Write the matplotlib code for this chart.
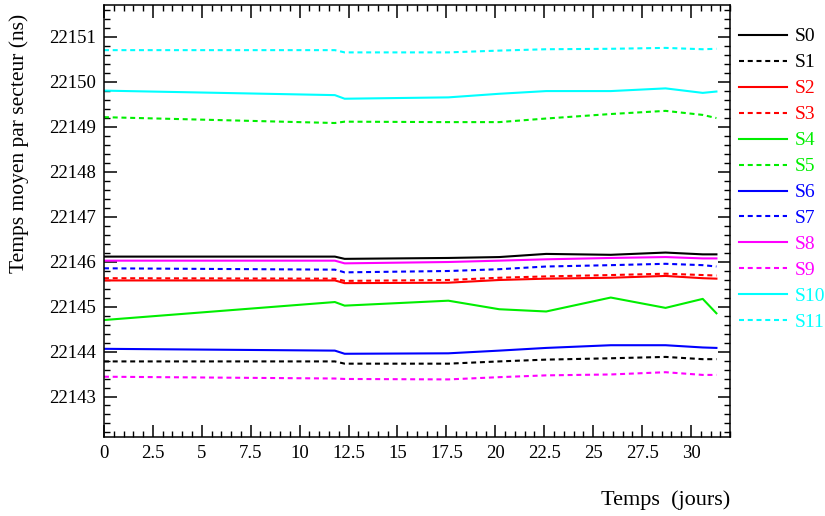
import numpy as np
import matplotlib
matplotlib.use('Agg')
import matplotlib.pyplot as plt
from matplotlib.ticker import MultipleLocator, FormatStrFormatter

plt.rcParams['font.family'] = ['Liberation Serif', 'DejaVu Serif']

# Measurement days
days = [0, 11.8, 12.3, 17.6, 20.2, 22.6, 25.9, 28.7, 30.6, 31.3]

# Mean time per sector (ns)
S0 = [22146.11, 22146.11, 22146.06, 22146.08, 22146.10, 22146.17, 22146.15, 22146.20, 22146.16, 22146.16]
S1 = [22143.78, 22143.78, 22143.73, 22143.73, 22143.78, 22143.82, 22143.85, 22143.88, 22143.83, 22143.83]
S2 = [22145.58, 22145.58, 22145.52, 22145.53, 22145.59, 22145.62, 22145.64, 22145.68, 22145.63, 22145.62]
S3 = [22145.63, 22145.62, 22145.57, 22145.59, 22145.64, 22145.67, 22145.70, 22145.73, 22145.70, 22145.69]
S4 = [22144.70, 22145.10, 22145.02, 22145.13, 22144.94, 22144.89, 22145.20, 22144.97, 22145.17, 22144.85]
S5 = [22149.21, 22149.08, 22149.11, 22149.10, 22149.10, 22149.18, 22149.28, 22149.35, 22149.26, 22149.19]
S6 = [22144.06, 22144.02, 22143.95, 22143.96, 22144.02, 22144.08, 22144.14, 22144.14, 22144.09, 22144.08]
S7 = [22145.85, 22145.82, 22145.76, 22145.79, 22145.83, 22145.89, 22145.92, 22145.95, 22145.92, 22145.89]
S8 = [22146.02, 22146.02, 22145.96, 22145.99, 22146.02, 22146.05, 22146.08, 22146.10, 22146.07, 22146.07]
S9 = [22143.44, 22143.40, 22143.39, 22143.38, 22143.43, 22143.47, 22143.49, 22143.54, 22143.48, 22143.48]
S10 = [22149.80, 22149.70, 22149.62, 22149.65, 22149.73, 22149.79, 22149.79, 22149.85, 22149.75, 22149.78]
S11 = [22150.70, 22150.70, 22150.65, 22150.65, 22150.69, 22150.72, 22150.73, 22150.75, 22150.72, 22150.73]

series = [S0, S1, S2, S3, S4, S5, S6, S7, S8, S9, S10, S11]
labels = ['S%d' % i for i in range(12)]
colors = ['#000000', '#ff0000', '#00ee00', '#0000ff', '#ff00ff', '#00ffff']

fig = plt.figure(figsize=(8.25, 5.16), dpi=100)
ax = fig.add_axes([0.126, 0.154, 0.759, 0.836])

dash = (0, (2.4, 1.8))
for i, (vals, lab) in enumerate(zip(series, labels)):
    ls = '-' if i % 2 == 0 else dash
    ax.plot(days, vals, color=colors[i // 2], linestyle=ls, linewidth=1.5, label=lab)

ax.set_xlim(0, 32)
ax.set_ylim(22142.11, 22151.7)

ax.xaxis.set_major_locator(MultipleLocator(2.5))
ax.xaxis.set_minor_locator(MultipleLocator(0.5))
ax.xaxis.set_major_formatter(FormatStrFormatter('%g'))
ax.yaxis.set_major_locator(MultipleLocator(1))
ax.yaxis.set_minor_locator(MultipleLocator(0.2))
ax.yaxis.set_major_formatter(FormatStrFormatter('%d'))

ax.tick_params(which='both', direction='in', top=True, right=True, labelsize=13.5, pad=6)
ax.tick_params(which='major', length=9, width=1.1)
ax.tick_params(which='minor', length=4.3, width=1.0)
for spine in ax.spines.values():
    spine.set_linewidth(1.1)

ax.set_ylabel('Temps moyen par secteur (ns)', fontsize=15.5)
ax.yaxis.set_label_coords(-0.12, 0.68)
fig.text(0.885, 0.022, 'Temps  (jours)', ha='right', va='baseline', fontsize=16)

ax.legend(loc='upper left', bbox_to_anchor=(0.896, 0.946), bbox_transform=fig.transFigure,
          frameon=False, fontsize=14, handlelength=2.47, handletextpad=0.4,
          labelspacing=0.43, borderpad=0, borderaxespad=0, labelcolor='linecolor')

fig.savefig('out.png', dpi=100)
